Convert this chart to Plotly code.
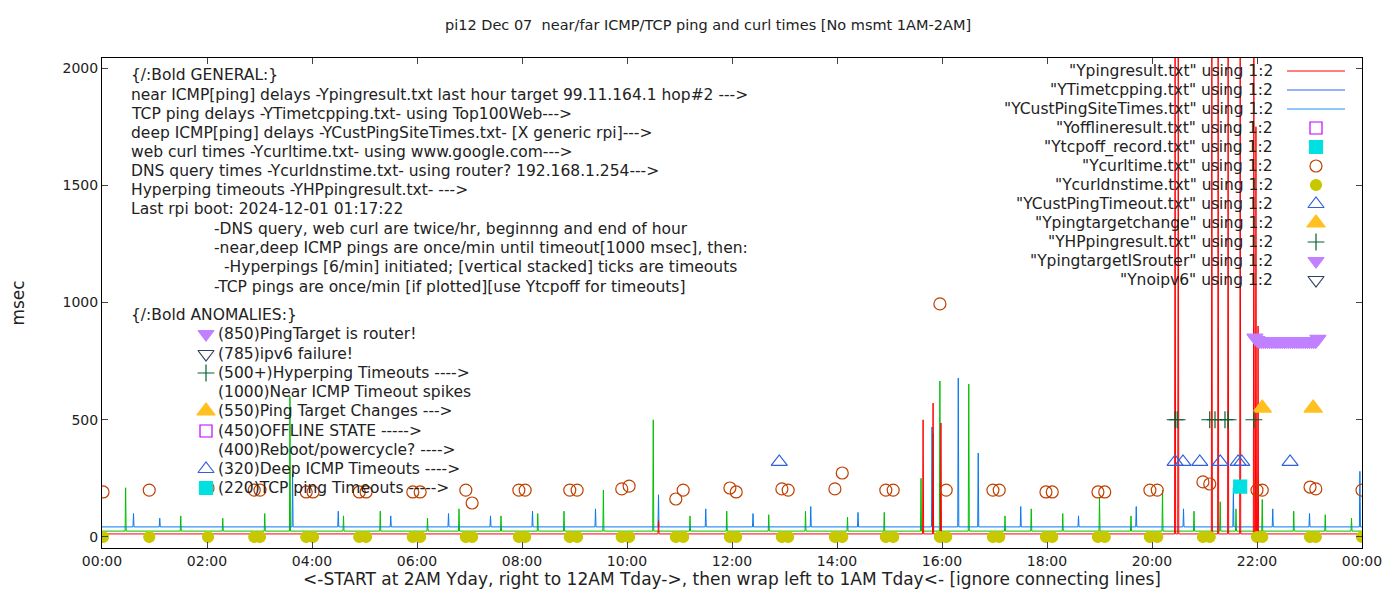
import plotly.graph_objects as go

# hours since start (0..24), values in msec
red_base, green_base, blue_base = 13, 25, 43
red_spikes = [(10.6, 70), (15.64, 500), (15.83, 571), (15.98, 486), (20.44, 2100), (20.5, 2100),
              (21.14, 2100), (21.26, 2100), (21.45, 2100), (21.68, 2100), (21.94, 2100),
              (21.98, 1750), (22.02, 900)]
green_spikes = [(0.45, 210), (1.5, 90), (2.3, 80), (3.1, 100), (3.58, 600), (4.6, 90), (5.3, 110),
                (6.2, 80), (6.8, 120), (7.6, 90), (8.3, 100), (8.8, 110), (9.55, 200), (10.5, 500),
                (11.2, 90), (11.9, 110), (12.7, 95), (13.4, 110), (14.2, 85), (14.9, 105),
                (15.6, 250), (15.83, 443), (15.96, 665), (16.51, 652), (17.2, 90), (17.7, 120),
                (18.3, 100), (19.0, 170), (19.6, 90), (20.2, 200), (20.8, 110), (21.3, 150),
                (21.6, 120), (22.1, 160), (22.7, 110), (23.3, 95), (23.8, 80)]
blue_spikes = [(0.6, 100), (1.1, 80), (3.63, 270), (4.5, 110), (5.5, 90), (6.6, 100), (7.4, 90),
               (8.2, 110), (9.4, 120), (10.6, 180), (11.5, 120), (12.4, 100), (13.5, 130),
               (14.4, 105), (15.81, 469), (16.31, 678), (16.69, 358), (17.5, 130), (18.6, 90),
               (19.7, 130), (20.6, 120), (21.55, 210), (22.3, 120), (23.0, 100), (23.96, 280)]

curl_h = [0.02, 0.90, 2.02, 2.90, 3.01, 3.89, 4.02, 4.90, 5.03, 5.92, 6.06, 6.93, 7.05, 7.94, 8.06,
          8.91, 9.05, 9.90, 10.04, 10.93, 11.07, 11.96, 12.08, 12.95, 13.07, 13.96, 14.10, 14.93,
          15.07, 15.96, 16.08, 16.97, 17.09, 17.98, 18.10, 18.97, 19.10, 19.96, 20.10, 20.97,
          21.10, 22.00, 22.10, 23.01, 23.12, 24.0]
curl_v = [192, 200, 209, 200, 200, 192, 192, 192, 192, 192, 192, 200, 145, 200, 200,
          200, 200, 205, 217, 162, 200, 209, 192, 205, 200, 205, 273, 200,
          200, 994, 200, 200, 200, 192, 192, 192, 192, 200, 200, 235,
          226, 200, 200, 213, 205, 200]
dns_h = curl_h
dns_v = [0] * len(curl_h)
deep_to_h = [12.9, 20.44, 20.59, 20.91, 21.30, 21.64, 21.71, 22.63]
deep_to_v = [320] * len(deep_to_h)
tgt_h = [22.10, 23.07]
tgt_v = [550, 550]
tcpoff_h = [21.68]
tcpoff_v = [215]
hp_h = [20.44, 20.48, 21.10, 21.20, 21.39, 21.45, 21.94]
hp_v = [500] * len(hp_h)
router_h = [21.96, 22.0, 22.04, 22.08, 22.12, 22.16, 22.2, 22.24, 22.28, 22.32, 22.36, 22.4, 22.44,
            22.48, 22.52, 22.56, 22.6, 22.64, 22.68, 22.72, 22.76, 22.8, 22.84, 22.88, 22.92,
            22.96, 23.0, 23.04, 23.08, 23.12, 23.16]
router_v = [850, 840, 835] + [835] * 27 + [845]

xtick_vals = list(range(0, 25, 2))
xtick_text = ["%02d:00" % (h % 24) for h in xtick_vals]


def build(base, spikes):
    xs, ys = [0], [base]
    for h, v in sorted(spikes):
        xs += [h - 0.01, h, h + 0.01]
        ys += [base, v, base]
    xs.append(24)
    ys.append(base)
    return xs, ys


fig = go.Figure()
for base, spk, col in [(green_base, green_spikes, "#00c000"), (blue_base, blue_spikes, "#0a78f0"),
                       (red_base, red_spikes, "#ff0000")]:
    x, y = build(base, spk)
    fig.add_trace(go.Scatter(x=x, y=y, mode="lines", line=dict(color=col, width=1), hoverinfo="skip"))

styles = {
    "curl": dict(symbol="circle-open", color="#c04000", size=12),
    "dns": dict(symbol="circle", color="#c8c800", size=11),
    "deep": dict(symbol="triangle-up-open", color="#3060e0", size=14),
    "tgt": dict(symbol="triangle-up", color="#ffc020", size=16),
    "tcpoff": dict(symbol="square", color="#00e0e0", size=13),
    "hp": dict(symbol="cross-thin-open", color="#006030", size=12),
    "router": dict(symbol="triangle-down", color="#c080ff", size=14),
    "ipv6": dict(symbol="triangle-down-open", color="#304060", size=14),
    "off": dict(symbol="square-open", color="#c000ff", size=12),
}
for key, xs, ys in [("dns", dns_h, dns_v), ("curl", curl_h, curl_v), ("deep", deep_to_h, deep_to_v),
                    ("tgt", tgt_h, tgt_v), ("tcpoff", tcpoff_h, tcpoff_v), ("hp", hp_h, hp_v),
                    ("router", router_h, router_v)]:
    s = styles[key]
    fig.add_trace(go.Scatter(x=xs, y=ys, mode="markers", hoverinfo="skip",
                             marker=dict(symbol=s["symbol"], color=s["color"], size=s["size"],
                                         line=dict(color=s["color"], width=1.2))))

# --- key + notes drawn on a pixel-coordinate overlay axis ---
F = dict(family="DejaVu Sans", size=15.5, color="#222")
legend_rows = [('"Ypingresult.txt" using 1:2', "line", "#ff0000"),
               ('"YTimetcpping.txt" using 1:2', "line", "#3060ff"),
               ('"YCustPingSiteTimes.txt" using 1:2', "line", "#1e90ff"),
               ('"Yofflineresult.txt" using 1:2', "off", None),
               ('"Ytcpoff_record.txt" using 1:2', "tcpoff", None),
               ('"Ycurltime.txt" using 1:2', "curl", None),
               ('"Ycurldnstime.txt" using 1:2', "dns", None),
               ('"YCustPingTimeout.txt" using 1:2', "deep", None),
               ('"Ypingtargetchange" using 1:2', "tgt", None),
               ('"YHPpingresult.txt" using 1:2', "hp", None),
               ('"YpingtargetISrouter" using 1:2', "router", None),
               ('"Ynoipv6" using 1:2', "ipv6", None)]
for i, (txt, kind, col) in enumerate(legend_rows):
    py = 71 + 19 * i
    fig.add_annotation(x=1275, y=py, xref="x2", yref="y2", text=txt, showarrow=False,
                       xanchor="right", font=F)
    if kind == "line":
        fig.add_shape(type="line", x0=1287, x1=1345, y0=py, y1=py, xref="x2", yref="y2",
                      line=dict(color=col, width=1))
    else:
        s = styles[kind]
        fig.add_trace(go.Scatter(x=[1316], y=[py], xaxis="x2", yaxis="y2", mode="markers",
                                 hoverinfo="skip",
                                 marker=dict(symbol=s["symbol"], color=s["color"], size=s["size"],
                                             line=dict(color=s["color"], width=1.2))))

notes = [(129, 75, "{/:Bold GENERAL:}", None),
         (129, 95, "near ICMP[ping] delays -Ypingresult.txt last hour target 99.11.164.1 hop#2 --->", None),
         (129, 114, "TCP ping delays -YTimetcpping.txt- using Top100Web--->", None),
         (129, 133, "deep ICMP[ping] delays -YCustPingSiteTimes.txt- [X generic rpi]--->", None),
         (129, 152, "web curl times -Ycurltime.txt- using www.google.com--->", None),
         (129, 171, "DNS query times -Ycurldnstime.txt- using router? 192.168.1.254--->", None),
         (129, 190, "Hyperping timeouts -YHPpingresult.txt- --->", None),
         (129, 209, "Last rpi boot: 2024-12-01 01:17:22", None),
         (212, 229, "-DNS query, web curl are twice/hr, beginnng and end of hour", None),
         (212, 248, "-near,deep ICMP pings are once/min until timeout[1000 msec], then:", None),
         (222, 267, "-Hyperpings [6/min] initiated; [vertical stacked] ticks are timeouts", None),
         (212, 287, "-TCP pings are once/min [if plotted][use Ytcpoff for timeouts]", None),
         (129, 315, "{/:Bold ANOMALIES:}", None),
         (216, 334, "(850)PingTarget is router!", "router"),
         (216, 354, "(785)ipv6 failure!", "ipv6"),
         (216, 373, "(500+)Hyperping Timeouts ---->", "hp"),
         (216, 392, "(1000)Near ICMP Timeout spikes", None),
         (216, 411, "(550)Ping Target Changes --->", "tgt"),
         (216, 431, "(450)OFFLINE STATE ----->", "off"),
         (216, 450, "(400)Reboot/powercycle? ---->", None),
         (216, 469, "(320)Deep ICMP Timeouts ---->", "deep"),
         (216, 488, "(220)TCP ping Timeouts ----->", "tcpoff")]
for px, py, txt, sym in notes:
    fig.add_annotation(x=px, y=py, xref="x2", yref="y2", text=txt, showarrow=False,
                       xanchor="left", font=F)
    if sym:
        s = styles[sym]
        fig.add_trace(go.Scatter(x=[206], y=[py], xaxis="x2", yaxis="y2", mode="markers",
                                 hoverinfo="skip",
                                 marker=dict(symbol=s["symbol"], color=s["color"], size=s["size"],
                                             line=dict(color=s["color"], width=1.2))))

fig.update_layout(
    width=1400, height=600, showlegend=False,
    margin=dict(l=94, r=46, t=50, b=60),
    plot_bgcolor="white", paper_bgcolor="white",
    font=dict(family="DejaVu Sans", size=14, color="#222"),
    title=dict(text="pi12 Dec 07  near/far ICMP/TCP ping and curl times [No msmt 1AM-2AM]",
               x=0.5, y=0.972, xanchor="center", yanchor="middle", font=dict(size=14.5)),
    xaxis=dict(range=[0, 24], tickvals=xtick_vals, ticktext=xtick_text, ticks="inside",
               ticklen=6, mirror="ticks", showline=True, linecolor="black", showgrid=False,
               zeroline=False, automargin=False,
               title=dict(text="<-START at 2AM Yday, right to 12AM Tday->, then wrap left to 1AM Tday<- [ignore connecting lines]",
                          standoff=2)),
    yaxis=dict(range=[-47, 2043], tickvals=[0, 500, 1000, 1500, 2000], ticks="inside", ticklen=6,
               mirror="ticks", showline=True, linecolor="black", showgrid=False, zeroline=False,
               automargin=False, title=dict(text="msec", standoff=40)),
    xaxis2=dict(overlaying="x", range=[102, 1362], visible=False),
    yaxis2=dict(overlaying="y", range=[548, 58], visible=False),
)

fig.write_html("out.html")
